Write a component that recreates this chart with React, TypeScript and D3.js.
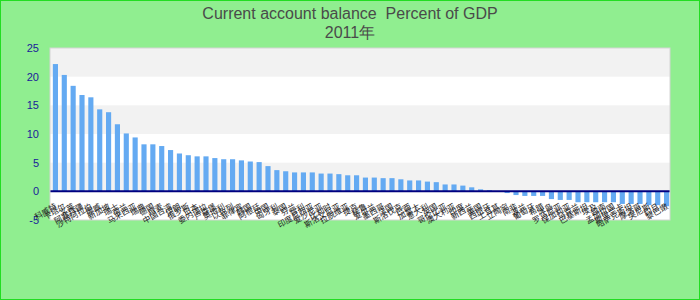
import React from "react";
import * as d3 from "d3";

const TITLE_LINE1 = "Current account balance  Percent of GDP";
const TITLE_LINE2 = "2011年";

const categories: string[] = [
  "科威特","卡塔尔","文莱","阿塞拜疆","沙特阿拉伯","挪威","新加坡","瑞士","荷兰","马来西亚",
  "瑞典","德国","丹麦","中国台湾","伊朗","俄罗斯","日本","委内瑞拉","卢森堡","奥地利",
  "以色列","菲律宾","韩国","阿根廷","中国","匈牙利","泰国","芬兰","智利","印度尼西亚",
  "爱沙尼亚","比利时","斯洛文尼亚","拉脱维亚","捷克","秘鲁","爱尔兰","墨西哥","法国","斯洛伐克",
  "巴西","加拿大","意大利","英国","哥伦比亚","澳大利亚","印度","新西兰","美国","西班牙",
  "土耳其","立陶宛","南非","波兰","葡萄牙","希腊","冰岛","罗马尼亚","保加利亚","乌克兰",
  "巴基斯坦","埃及","越南","孟加拉国","斯里兰卡","哈萨克斯坦","摩洛哥","突尼斯","约旦","黎巴嫩",
];

const values: number[] = [
  22.2, 20.3, 18.4, 16.8, 16.4, 14.3, 13.8, 11.7, 10.1, 9.4,
  8.2, 8.2, 7.9, 7.2, 6.6, 6.3, 6.1, 6.1, 5.8, 5.6,
  5.6, 5.4, 5.2, 5.1, 4.4, 3.7, 3.5, 3.3, 3.3, 3.3,
  3.1, 3.1, 3.0, 2.8, 2.8, 2.4, 2.4, 2.3, 2.3, 2.1,
  1.9, 1.9, 1.7, 1.6, 1.2, 1.2, 1.0, 0.7, 0.35, 0.2,
  0.02, -0.3, -0.65, -0.8, -0.8, -0.8, -1.35, -1.5, -1.5, -1.9,
  -1.9, -1.9, -1.9, -1.9, -2.2, -2.2, -2.2, -2.4, -2.4, -2.6,
];

const yTicks: number[] = [-5, 0, 5, 10, 15, 20, 25];

const W = 700;
const H = 300;
const plot = { left: 50, right: 670, top: 48, bottom: 220 };

export default function App() {
  const x = d3
    .scaleBand<string>()
    .domain(categories)
    .range([plot.left + 1, plot.right + 1])
    .paddingInner(0.42)
    .paddingOuter(0.21);
  const y = d3.scaleLinear().domain([-5, 25]).range([plot.bottom, plot.top]);

  const bands = d3.range(-5, 25, 5).map((v) => ({ lo: v, hi: v + 5, gray: ((v + 5) / 5) % 2 === 1 }));

  return (
    <svg
      width={W}
      height={H}
      style={{ position: "fixed", left: 0, top: 0, display: "block" }}
      fontFamily="'Liberation Sans', Arial, sans-serif"
    >
      <rect x={0.5} y={0.5} width={W - 1} height={H - 1} fill="#90ee90" stroke="#22dd22" strokeWidth={1} />
      <text x={350} y={19} textAnchor="middle" fontSize={16} fill="#4a4a4a" style={{ whiteSpace: "pre" }}>
        {TITLE_LINE1}
      </text>
      <text x={350} y={38} textAnchor="middle" fontSize={16} fill="#4a4a4a">
        {TITLE_LINE2}
      </text>

      <rect x={plot.left} y={plot.top} width={plot.right - plot.left} height={plot.bottom - plot.top} fill="#ffffff" />
      {bands.map((b, i) =>
        b.gray ? (
          <rect
            key={i}
            x={plot.left}
            y={y(b.hi)}
            width={plot.right - plot.left}
            height={y(b.lo) - y(b.hi)}
            fill="#f2f2f2"
          />
        ) : null
      )}

      {values.map((v, i) => (
        <rect
          key={i}
          x={x(categories[i])}
          y={y(Math.max(0, v))}
          width={x.bandwidth()}
          height={Math.abs(y(v) - y(0))}
          fill="#64aaf2"
        />
      ))}

      <line x1={plot.left} x2={plot.right} y1={y(0)} y2={y(0)} stroke="#000080" strokeWidth={2} />

      <rect
        x={plot.left}
        y={plot.top}
        width={plot.right - plot.left}
        height={plot.bottom - plot.top}
        fill="none"
        stroke="#d4d4d4"
        strokeWidth={1}
      />

      {yTicks.map((t) => (
        <text key={t} x={39} y={y(t)} dy="0.35em" textAnchor="end" fontSize={11} fill="#1a1a9a">
          {t}
        </text>
      ))}

      {categories.map((c) => {
        const cx = (x(c) as number) + x.bandwidth() / 2 + 2;
        const cy = 208;
        return (
          <text
            key={c}
            x={cx}
            y={cy}
            transform={`rotate(-30, ${cx}, ${cy})`}
            textAnchor="end"
            fontSize={8}
            fill="#222"
            fontFamily="'Noto Sans CJK SC', sans-serif"
          >
            {c}
          </text>
        );
      })}
    </svg>
  );
}
